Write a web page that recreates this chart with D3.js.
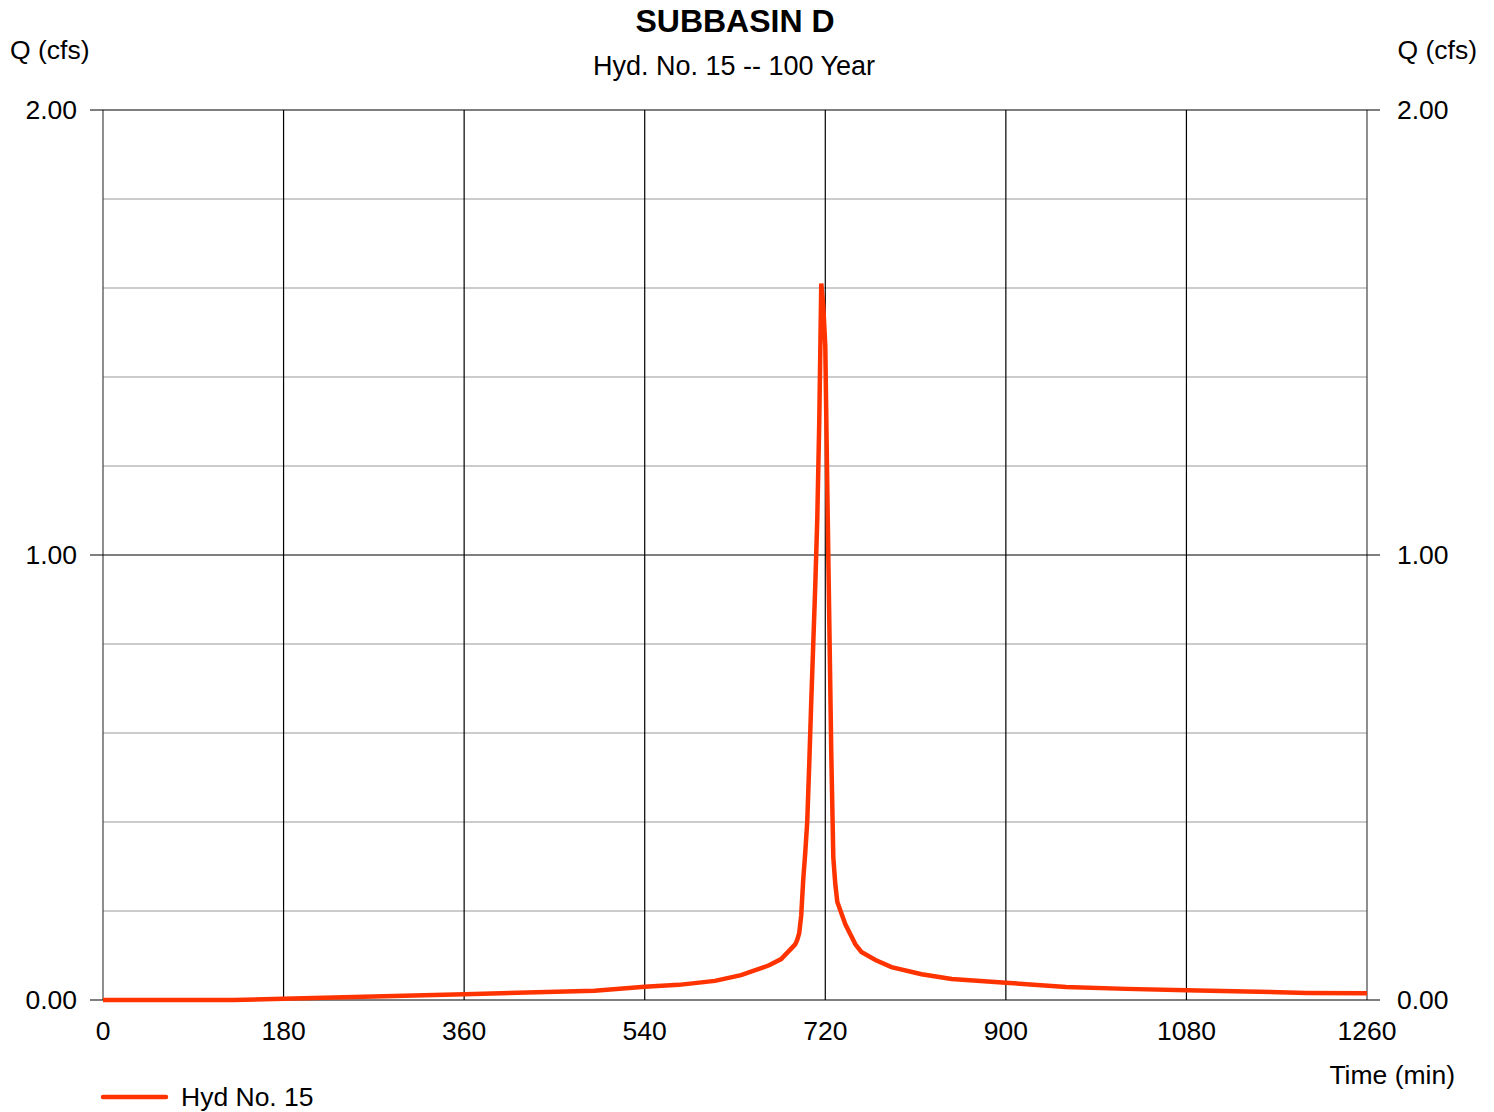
<!DOCTYPE html>
<html><head><meta charset="utf-8">
<script src="https://cdn.jsdelivr.net/npm/d3@7"></script>
<style>body{margin:0;background:#fff;} svg{display:block;font-family:Arial,"Liberation Sans",sans-serif;}</style>
</head><body>
<script>
const title = "SUBBASIN D";
const subtitle = "Hyd. No. 15 -- 100 Year";
const seriesName = "Hyd No. 15";
const xTicks = [0,180,360,540,720,900,1080,1260];
const yMajorTicks = [0,1,2];
const yMinorTicks = [0.2,0.4,0.6,0.8,1.2,1.4,1.6,1.8];
const times = [0,130,180,270,360,490,540,574,610,636,664,676,690,692,694,696,698,700,702,704,706,708,710,712,714,716,718,720,722,724,726,728,730,732,740,750,756,770,786,816,846,900,960,1020,1080,1140,1200,1260];
const flows = [0,0,0.003,0.008,0.013,0.021,0.030,0.034,0.043,0.056,0.078,0.092,0.125,0.135,0.15,0.19,0.27,0.33,0.40,0.53,0.67,0.80,0.93,1.08,1.30,1.61,1.56,1.47,1.15,0.85,0.55,0.32,0.26,0.22,0.17,0.125,0.108,0.09,0.074,0.058,0.047,0.039,0.029,0.025,0.022,0.019,0.016,0.015];

const W=1494,H=1112;
const m={l:103,r:1367,t:110,b:1000};
const svg=d3.select("body").append("svg").attr("width",W).attr("height",H);
const x=d3.scaleLinear().domain([0,1260]).range([m.l,m.r]);
const y=d3.scaleLinear().domain([0,2]).range([m.b,m.t]);

svg.append("g").selectAll("line").data(yMinorTicks).join("line")
 .attr("x1",m.l).attr("x2",m.r).attr("y1",d=>y(d)).attr("y2",d=>y(d))
 .attr("stroke","#cccccc").attr("stroke-width",2);
svg.append("g").selectAll("line").data(xTicks).join("line")
 .attr("x1",d=>x(d)).attr("x2",d=>x(d)).attr("y1",m.t).attr("y2",m.b)
 .attr("stroke",(d,i)=>(i===0||i===xTicks.length-1)?"#444":"#000").attr("stroke-width",1.2);
svg.append("g").selectAll("line").data(yMajorTicks).join("line")
 .attr("x1",m.l-13).attr("x2",m.r+13).attr("y1",d=>y(d)).attr("y2",d=>y(d))
 .attr("stroke","#000").attr("stroke-width",1.2);

const fs=26.5;
svg.append("g").selectAll("text").data(yMajorTicks).join("text")
 .attr("x",77).attr("y",d=>y(d)).attr("dy","0.35em").attr("text-anchor","end")
 .attr("font-size",fs).text(d=>d.toFixed(2));
svg.append("g").selectAll("text").data(yMajorTicks).join("text")
 .attr("x",1397).attr("y",d=>y(d)).attr("dy","0.35em").attr("text-anchor","start")
 .attr("font-size",fs).text(d=>d.toFixed(2));
svg.append("g").selectAll("text").data(xTicks).join("text")
 .attr("x",d=>x(d)).attr("y",1031).attr("dy","0.35em").attr("text-anchor","middle")
 .attr("font-size",fs).text(d=>d);

svg.append("text").attr("x",10).attr("y",50).attr("dy","0.35em").attr("font-size",fs).text("Q (cfs)");
svg.append("text").attr("x",1477).attr("y",50).attr("dy","0.35em").attr("text-anchor","end").attr("font-size",fs).text("Q (cfs)");
svg.append("text").attr("x",1455).attr("y",1075).attr("dy","0.35em").attr("text-anchor","end").attr("font-size",fs).text("Time (min)");
svg.append("text").attr("x",735).attr("y",21).attr("dy","0.35em").attr("text-anchor","middle").attr("font-size",32).attr("font-weight","bold").text(title);
svg.append("text").attr("x",734).attr("y",66).attr("dy","0.35em").attr("text-anchor","middle").attr("font-size",fs+0.5).text(subtitle);

const data=times.map((t,i)=>({t,q:flows[i]}));
svg.append("path").datum(data)
 .attr("d",d3.line().x(d=>x(d.t)).y(d=>y(d.q)))
 .attr("fill","none").attr("stroke","#ff3300").attr("stroke-width",4.5).attr("stroke-linejoin","miter");

svg.append("line").attr("x1",103).attr("x2",166).attr("y1",1097).attr("y2",1097)
 .attr("stroke","#ff3300").attr("stroke-width",4.5).attr("stroke-linecap","round");
svg.append("text").attr("x",181).attr("y",1097).attr("dy","0.35em").attr("font-size",fs).text(seriesName);
</script>
</body></html>
